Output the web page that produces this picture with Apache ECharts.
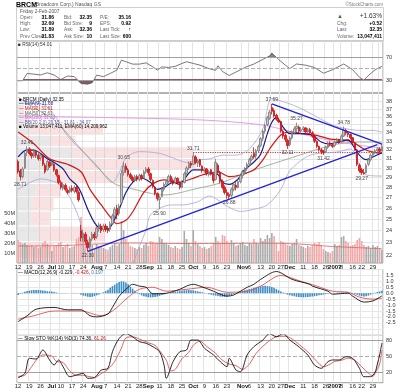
<!DOCTYPE html>
<html><head><meta charset="utf-8">
<script src="https://cdn.jsdelivr.net/npm/echarts/dist/echarts.min.js"></script>
<style>html,body{margin:0;padding:0;background:#fff}#c{width:400px;height:392px}</style>
</head><body><div id="c"></div>
<script>
// ---------- trading days ----------
const junDays = [12,13,14,15,16,19,20,21,22,23,26,27,28,29,30];
const julDays = [3,5,6,7,10,11,12,13,14,17,18,19,20,21,24,25,26,27,28,31];
const augDays = [1,2,3,4,7,8,9,10,11,14,15,16,17,18,21,22,23,24,25,28,29,30,31];
const sepDays = [1,5,6,7,8,11,12,13,14,15,18,19,20,21,22,25,26,27,28,29];
const octDays = [2,3,4,5,6,9,10,11,12,13,16,17,18,19,20,23,24,25,26,27,30,31];
const novDays = [1,2,3,6,7,8,9,10,13,14,15,16,17,20,21,22,24,27,28,29,30];
const decDays = [1,4,5,6,7,8,11,12,13,14,15,18,19,20,21,22,26,27,28,29];
const janDays = [3,4,5,8,9,10,11,12,16,17,18,19,22,23,24,25,26,29,30,31];
const febDays = [1,2];

const tickDates = ['2006-06-12','2006-06-19','2006-06-26','2006-07-03','2006-07-10','2006-07-17','2006-07-24','2006-08-01','2006-08-07','2006-08-14','2006-08-21','2006-08-28','2006-09-01','2006-09-11','2006-09-18','2006-09-25','2006-10-02','2006-10-09','2006-10-16','2006-10-23','2006-11-01','2006-11-06','2006-11-13','2006-11-20','2006-11-27','2006-12-01','2006-12-11','2006-12-18','2006-12-26','2007-01-03','2007-01-08','2007-01-16','2007-01-22','2007-01-29','2007-02-01'];
const tickLabels = ['12','19','26','Jul','10','17','24','Aug','7','14','21','28','Sep','11','18','25','Oct','9','16','23','Nov','6','13','20','27','Dec','11','18','26','2007','8','16','22','29','Feb'];
const boldLabels = ['Jul','Aug','Sep','Oct','Nov','Dec','2007','Feb'];

// ---------- daily OHLC (Jun..Feb) ----------
const open = [
 30.7,29.7,29.1,30.0,31.7,32.1,31.6,31.3,31.8,31.4,31.1,31.3,30.3,29.8,30.6,
 30.3,30.4,29.8,29.2,28.5,27.9,28.2,27.7,27.6,27.9,27.6,28.0,27.5,24.0,23.4,23.7,23.0,22.7,23.3,23.7,
 23.5,24.2,24.4,24.1,24.4,24.2,24.1,24.6,25.3,26.0,25.5,26.5,29.5,30.2,29.8,29.3,29.0,28.7,29.1,28.8,29.2,29.0,29.6,
 29.9,29.4,28.7,28.0,27.4,26.8,27.1,27.8,28.3,28.6,29.1,28.7,28.5,28.9,28.5,28.0,28.5,29.4,30.0,30.5,
 30.4,31.2,30.5,30.9,30.2,29.7,29.9,29.3,29.8,29.3,28.8,30.3,29.5,28.6,28.0,27.5,27.3,27.2,27.8,28.2,28.0,28.6,
 29.2,29.5,29.9,30.4,30.9,31.6,31.3,31.9,32.5,33.3,34.2,35.0,35.8,37.2,36.8,36.2,35.6,35.4,34.2,33.7,33.1,
 32.6,33.4,34.0,34.5,34.7,34.2,34.4,34.6,34.1,34.4,34.0,33.6,33.0,32.4,32.0,31.8,31.8,32.3,32.8,32.6,
 32.5,32.9,33.2,33.0,33.6,34.3,34.0,33.8,33.4,32.8,32.0,30.3,29.8,29.5,29.5,30.4,30.9,31.4,31.7,31.9,
 32.1,31.86];
const close = [
 29.6,29.1,29.9,31.6,32.1,31.6,31.3,31.9,31.4,31.0,31.4,30.4,29.6,30.7,30.2,
 30.6,29.8,29.3,28.5,28.0,28.3,27.8,27.5,27.9,27.7,28.0,27.6,26.8,23.4,23.8,23.1,22.6,23.3,23.7,23.4,
 24.2,24.5,24.0,24.4,24.1,24.0,24.6,25.3,25.9,25.4,26.2,29.4,30.2,29.8,29.3,29.0,28.7,29.1,28.8,29.2,28.9,29.6,29.9,
 29.5,28.8,28.1,27.4,26.9,27.0,27.8,28.3,28.6,29.1,28.7,28.4,28.9,28.5,28.0,28.5,29.4,30.0,30.5,30.3,
 31.3,30.6,30.8,30.3,29.7,29.9,29.4,29.6,29.4,28.7,30.6,29.5,28.6,28.0,27.5,27.2,27.1,27.8,28.3,28.0,28.6,29.2,
 29.6,29.9,30.4,30.9,31.3,31.2,31.9,32.4,33.3,34.2,34.9,35.9,36.6,36.7,36.1,35.7,35.4,34.2,33.6,33.2,32.5,
 33.4,34.0,34.5,34.8,34.2,34.4,34.6,34.1,34.4,34.0,33.6,33.0,32.4,32.0,31.8,31.7,32.3,32.8,32.6,32.4,
 32.9,33.2,32.9,33.6,34.3,34.0,33.8,33.4,32.9,32.1,30.4,29.7,29.5,29.4,30.3,30.9,31.4,31.7,31.9,32.1,
 31.83,32.35];
const low = [
 29.4,28.71,28.9,29.9,31.3,31.4,31.0,31.1,31.1,30.8,30.8,30.2,29.4,29.7,30.0,
 30.2,29.6,29.1,28.3,27.8,27.7,27.6,27.3,27.4,27.5,27.4,27.4,26.6,23.1,23.1,22.9,22.3,22.5,23.1,23.2,
 23.3,23.9,23.8,23.9,23.9,23.8,23.9,24.5,25.1,25.0,25.3,26.4,29.2,29.5,29.1,28.8,28.5,28.5,28.6,28.6,28.7,28.9,29.4,
 29.2,28.6,27.9,27.2,26.7,25.9,27.0,27.6,28.1,28.4,28.5,28.2,28.3,28.3,27.8,27.9,28.4,29.2,29.8,30.0,
 30.3,30.4,30.1,30.1,29.5,29.5,29.2,29.1,29.2,28.4,28.7,29.3,28.4,27.8,27.3,26.9,26.88,27.0,27.6,27.7,27.9,28.4,
 28.9,29.3,29.7,30.2,30.7,31.0,31.0,31.7,32.3,33.0,33.9,34.8,35.6,36.3,35.9,35.5,35.2,34.0,33.3,32.9,32.11,
 32.4,33.2,33.8,34.1,34.0,33.9,34.1,33.9,33.9,33.8,33.4,32.8,32.2,31.8,31.5,31.42,31.7,32.1,32.4,32.2,
 32.3,32.7,32.7,32.9,33.5,33.7,33.5,33.2,32.7,31.9,30.2,29.5,29.27,29.3,29.4,30.2,30.7,31.2,31.5,31.6,
 31.7,31.80];
const high = [
 30.9,29.9,30.1,31.8,32.41,32.3,31.8,32.1,32.0,31.6,31.6,31.4,30.5,30.9,30.8,
 30.8,30.5,29.9,29.3,28.7,28.5,28.4,27.9,28.1,28.2,28.2,28.2,27.7,24.5,24.1,23.9,23.2,23.5,23.9,23.9,
 24.4,24.7,24.6,24.6,24.6,24.4,24.8,25.5,26.1,26.3,26.4,29.8,30.65,30.5,30.0,29.5,29.2,29.3,29.3,29.4,29.4,29.8,30.1,
 30.1,29.5,28.8,28.1,27.5,27.2,28.0,28.5,28.8,29.3,29.3,28.9,29.1,29.0,28.6,28.7,29.6,30.2,30.7,30.7,
 31.71,31.4,31.0,31.0,30.3,30.1,30.0,29.8,29.9,29.4,31.0,30.5,29.7,28.8,28.2,27.8,27.5,28.0,28.5,28.5,28.8,29.4,
 29.8,30.1,30.6,31.1,31.5,32.3,32.1,32.6,33.5,34.4,35.1,36.1,36.9,37.69,37.1,36.4,35.9,35.5,34.4,33.9,33.3,
 33.6,34.3,34.8,35.27,34.9,34.7,34.8,34.7,34.6,34.6,34.2,33.8,33.1,32.5,32.2,32.0,32.5,33.0,33.0,32.8,
 33.1,33.4,33.3,33.8,34.78,34.5,34.2,33.9,33.5,32.9,32.1,30.5,30.0,29.9,30.5,31.1,31.6,31.9,32.1,32.3,
 32.3,32.69];
// volume, millions of shares
const volume = [
 23,21,19,20,18,17,18,16,17,15,16,20,22,19,17,
 12,17,18,20,21,16,17,19,15,16,17,24,26,46,28,22,24,20,18,14,
 19,17,16,15,14,13,16,18,20,17,19,42,33,24,20,17,16,15,14,16,15,18,20,
 17,22,21,19,20,26,24,20,19,18,16,15,17,15,14,16,32,24,20,17,
 33,22,19,17,15,16,14,15,17,20,26,22,20,28,27,22,20,23,20,17,18,20,
 21,18,17,20,19,24,20,19,25,22,24,28,25,30,27,20,12,22,21,19,18,
 17,19,20,24,18,17,16,15,17,16,18,20,19,21,18,14,12,11,10,12,
 19,17,18,26,27,22,20,17,18,19,23,25,22,18,16,17,15,18,16,17,
 15,13.05];
const volEma60 = [[0,17],[20,17.5],[35,19],[50,20],[70,19.5],[90,19.5],[110,19.8],[125,19],[140,16.5],[150,15.5],[162,14.2]];

// ---------- overlays: [day index, value] ----------
const ema9 = [[0,31.2],[4,32.0],[8,31.9],[13,31.0],[16,30.6],[20,29.9],[23,28.85],[26,28.24],[28,27.5],[31,25.9],[34,24.7],[37,24.15],[40,24.15],[42,24.6],[45,25.9],[48,27.5],[51,28.5],[54,29.0],[59,28.5],[62,27.8],[65,28.0],[69,28.5],[72,28.3],[74,28.85],[78,29.8],[82,29.8],[86,29.4],[89,29.3],[91,28.5],[94,28.3],[98,28.85],[100,29.6],[105,30.65],[108,31.5],[111,33.9],[113,35.3],[115,35.9],[118,34.7],[121,33.9],[127,33.9],[131,33.7],[135,32.9],[138,32.7],[143,32.9],[147,33.15],[149,32.56],[152,31.4],[155,30.9],[158,31.2],[162,31.68]];
const ma20 = [[0,34.1],[7,32.7],[14,31.0],[22,30.4],[28,29.6],[32,27.8],[37,26.3],[41,25.2],[44,24.6],[48,24.9],[51,25.65],[56,27.5],[60,28.35],[65,28.75],[71,28.5],[77,28.85],[82,29.26],[89,29.6],[94,29.1],[99,29.26],[105,29.8],[109,30.87],[112,32.1],[117,33.74],[121,34.1],[127,33.9],[133,33.7],[139,33.25],[145,33.15],[149,32.9],[154,32.1],[158,31.75],[162,31.61]];
const ma50 = [[0,38.6],[8,37.0],[16,35.6],[42,28.5],[50,27.9],[65,27.25],[80,27.9],[91,28.5],[99,29.26],[109,30.1],[120,30.97],[129,31.7],[140,32.56],[152,32.9],[162,32.9]];
const ma200 = [[0,36.1],[40,35.9],[81,35.6],[108,35.0],[121,34.2],[137,33.2],[150,32.6],[162,32.2]];
const bbUpper = [[0,37.8],[8,37.8],[13,37.3],[19,35.0],[22,33.6],[35,30.3],[42,28.5],[45,29.5],[48,31.1],[54,31.8],[63,31.6],[71,30.9],[75,30.6],[81,30.9],[85,30.97],[91,31.4],[97,31.4],[103,32.1],[109,34.5],[113,38.4],[120,37.8],[125,37.2],[133,36.0],[140,34.96],[146,34.5],[152,34.3],[158,34.3],[162,34.07]];
const bbLower = [[0,27.8],[10,28.85],[19,28.24],[24,26.6],[28,24.5],[30,21.8],[34,20.0],[40,19.5],[46,20.3],[51,21.4],[54,22.7],[57,24.06],[59,25.4],[68,26.3],[73,26.3],[80,26.6],[85,27.15],[93,26.2],[99,25.7],[105,25.9],[111,26.3],[117,27.8],[121,29.7],[130,31.4],[142,31.75],[148,32.1],[152,30.3],[155,29.26],[162,29.15]];
const upTrend = [[31,22.3],[160,32.6]];
const downTrend = [[113,37.69],[162,32.67]];
const resistance = [[78,31.71],[162,31.71]];
const highNotes = [[4,32.41],[47,30.65],[78,31.71],[113,37.69],[124,35.27],[145,34.78]];
const lowNotes = [[1,28.71],[31,22.3],[63,25.9],[94,26.88],[120,32.11],[136,31.42],[153,29.27]];
const priceTicks = [22,23,24,25,26,27,28,29,30,31,32,33,34,35,36,37,38];

// volume by price bands
const vbpLow  = [21.75,23.08,24.41,25.73,27.06,28.39,29.72,31.04,32.37,33.70,35.03,36.36];
const vbpHigh = [23.08,24.41,25.73,27.06,28.39,29.72,31.04,32.37,33.70,35.03,36.36,37.69];
const vbpUp   = [30,60,40,40,50,110,170,150,90,35,15,10];
const vbpDown = [70,180,50,60,70,200,320,330,70,200,15,10];

// RSI(14)
const rsi = [[0,28.8],[2,29],[4,41.6],[7,40.4],[10,39],[13,42.7],[16,39],[19,31],[22,37],[25,36.2],[28,24],[31,23],[33,25.5],[35,38.7],[38,36],[41,41.6],[44,47.4],[46,64.8],[48,62],[51,57.8],[54,57.8],[57,60],[60,53],[62,47.4],[64,53],[67,52],[70,54],[73,59],[75,62],[78,59],[81,56],[85,50],[88,47],[89,55],[91,45],[94,38],[97,44],[101,52],[105,58],[109,66],[112,72],[113,77],[116,66],[119,56],[121,50],[124,58],[128,56],[132,52],[136,42],[140,48],[145,58],[149,48],[152,35],[154,30],[156,38],[159,48],[162,54.01]];

// MACD(12,26,9)
const macdLine = [[0,-2.4],[4,-1.9],[8,-1.35],[16,-1.2],[22,-1.4],[28,-1.4],[32,-1.9],[35,-2.0],[40,-1.75],[42,-1.2],[45,-0.25],[49,0.5],[51,0.75],[54,0.6],[57,0.5],[60,-0.05],[66,0.0],[72,0.33],[75,0.6],[78,0.75],[81,0.6],[87,0.17],[93,-0.25],[96,-0.15],[102,0.5],[105,0.75],[108,1.17],[115,1.83],[122,1.17],[130,0.75],[131,0.6],[138,0.17],[140,-0.08],[147,0.0],[149,-0.25],[154,-0.75],[158,-0.65],[162,-0.229]];
const macdSignal = [[0,-2.2],[7,-1.9],[16,-1.5],[28,-1.5],[37,-1.9],[42,-1.5],[49,-0.35],[54,0.33],[60,0.5],[66,0.17],[75,0.33],[84,0.5],[93,0.08],[102,0.17],[108,0.6],[117,1.5],[126,1.0],[133,0.6],[140,0.17],[147,0.08],[152,-0.33],[158,-0.5],[162,-0.426]];
const macdHist = [
 -0.15,-0.05,0.05,0.12,0.18,0.22,0.25,0.27,0.28,0.27,0.25,0.22,0.2,0.17,0.15,
 0.14,0.1,0.06,0.02,-0.02,-0.03,-0.02,-0.01,0.0,0.02,0.03,0.02,-0.02,-0.12,-0.2,-0.25,
 -0.3,-0.32,-0.3,-0.25,-0.18,-0.1,-0.02,0.08,0.18,0.3,
 0.45,0.6,0.72,0.85,0.95,1.0,0.98,0.9,0.75,0.55,0.38,
 0.2,0.05,-0.08,-0.18,-0.25,-0.3,-0.34,-0.36,-0.35,-0.32,-0.28,-0.22,-0.16,-0.1,-0.05,0.0,0.05,0.1,0.12,0.15,
 0.18,0.2,0.24,0.26,0.27,0.26,0.24,0.2,0.16,0.12,0.08,0.03,-0.02,-0.08,
 -0.13,-0.18,-0.2,-0.24,-0.28,-0.3,-0.3,-0.27,-0.22,-0.15,-0.08,
 0.0,0.08,0.15,0.2,0.25,0.3,0.35,0.4,0.45,0.5,0.55,0.58,0.6,0.62,0.6,0.58,0.52,0.45,0.35,0.25,0.15,0.05,
 -0.05,-0.12,-0.18,-0.22,-0.26,-0.3,-0.32,-0.34,-0.35,-0.34,-0.32,-0.3,-0.28,-0.25,-0.22,-0.18,-0.15,-0.12,-0.08,-0.05,-0.02,0.0,
 0.02,0.04,0.05,0.06,0.07,0.06,0.04,0.01,
 -0.04,-0.08,-0.14,-0.2,-0.25,-0.27,-0.25,-0.2,-0.12,-0.04,
 0.04,0.1,0.15,0.197];

// Slow stochastic
const stoK = [[0,9.4],[3,17.6],[5,45.7],[8,44.4],[11,61.3],[14,42.6],[16,33.2],[18,42.6],[20,30],[23,11.3],[26,14.4],[29,17.6],[31,8.2],[34,9.4],[37,23.8],[40,27],[42,58],[45,83],[48,92],[51,86],[54,77],[57,74],[60,67.5],[63,58],[65,33],[66,8.2],[69,39.4],[72,58],[75,61.3],[77,80],[80,80],[83,64.5],[87,52],[90,39.4],[93,30],[94,45.7],[97,23.8],[99,20.6],[102,52],[105,67.5],[109,80],[112,92],[115,86],[118,92],[121,80],[124,70.7],[129,52],[132,33],[135,27],[138,39.4],[140,42.6],[143,42.6],[146,48.8],[149,45.7],[152,27],[154,11.3],[157,11.3],[159,20],[160,35],[161,52],[162,74.36]];
const stoD = [[0,12],[3,14],[6,30],[8,42],[11,52],[15,50],[17,40],[20,38],[23,22],[26,14],[29,14],[31,12],[34,10],[37,17],[40,25],[43,40],[46,65],[48,84],[51,86],[55,80],[58,75],[61,70],[63,60],[66,42],[68,22],[70,25],[73,45],[76,57],[78,70],[81,78],[84,68],[88,55],[91,42],[94,35],[97,32],[100,25],[103,35],[106,55],[110,72],[113,82],[116,87],[119,87],[122,82],[125,72],[129,58],[133,40],[136,30],[139,35],[141,40],[144,42],[147,46],[150,42],[153,30],[156,18],[158,12],[159,18],[161,35],[162,61.26]];

// ---------- build ----------
const months = [['2006-06',junDays],['2006-07',julDays],['2006-08',augDays],['2006-09',sepDays],['2006-10',octDays],['2006-11',novDays],['2006-12',decDays],['2007-01',janDays],['2007-02',febDays]];
const dates = [];
months.forEach(([m, ds]) => ds.forEach(d => dates.push(m + '-' + (d < 10 ? '0' + d : d))));
const tickMap = {};
tickDates.forEach((d, i) => { tickMap[d] = tickLabels[i]; });
const isTick = (i, v) => tickMap[v] !== undefined;
const pts = arr => arr.map(([i, v]) => [dates[i], v]);

const FONT = 'Liberation Sans, Arial, sans-serif';
const NARROW = '"Liberation Sans Narrow", "Liberation Sans", Arial, sans-serif';
const L = 17, W = 366;
function xCat(grid, labels) {
  return {
    type: 'category', gridIndex: grid, data: dates, boundaryGap: true,
    axisLine: {show: false}, axisTick: {show: false},
    axisLabel: {
      show: labels, interval: isTick, margin: 1, fontSize: 6, color: '#222', fontFamily: FONT,
      formatter: v => { const t = tickMap[v] || ''; return boldLabels.indexOf(t) >= 0 ? '{b|' + t + '}' : t; },
      rich: {b: {fontWeight: 'bold', fontSize: 6, color: '#111', fontFamily: FONT}}
    },
    splitLine: {show: true, interval: isTick, lineStyle: {color: '#e4e4e4', width: 1}}
  };
}
const hiddenCat = g => ({type: 'category', gridIndex: g, data: dates, boundaryGap: true, show: false});

const candleData = dates.map((d, i) => [open[i], close[i], low[i], high[i]]);
const volData = volume.map((v, i) => ({
  value: v,
  itemStyle: {color: close[i] >= (i ? close[i - 1] : open[i]) ? '#ababab' : '#f2a6a6'}
}));

const T = (x, y, text, o) => ({type: 'text', x: x, y: y, silent: true, z: 100,
  style: Object.assign({text: text, fill: '#000', font: '5px ' + FONT, textVerticalAlign: 'middle'}, o || {})});

const graphics = [
  T(16, 5, 'BRCM', {font: 'bold 7px ' + FONT}),
  T(34, 5, '(Broadcom Corp.) Nasdaq GS', {fill: '#555', font: '5px ' + FONT}),
  T(383, 4.5, '\u00a9StockCharts.com', {fill: '#777', font: '4.5px ' + FONT, textAlign: 'right'}),
  {type: 'rect', silent: true, shape: {x: 16.5, y: 7.5, width: 367, height: 34}, style: {fill: 'none', stroke: '#cfcfcf', lineWidth: 1}},
  T(20, 11.5, 'Friday 2-Feb-2007', {fill: '#555', font: '4.8px ' + NARROW})
];
const infoRows = [
  ['Open:', '31.86', 'Bid:', '32.35', 'P/E:', '35.16'],
  ['High:', '32.69', 'Bid Size:', '9', 'EPS:', '0.92'],
  ['Low:', '31.89', 'Ask:', '32.36', 'Last Tick:', '\u2191'],
  ['Prev Close:', '31.83', 'Ask Size:', '10', 'Last Size:', '600']
];
const rowY = [17.5, 23.8, 30, 36.2];
const lab = {fill: '#666', font: '4.8px ' + NARROW};
const val = {font: 'bold 5px ' + FONT, textAlign: 'right'};
infoRows.forEach((r, k) => {
  graphics.push(T(20, rowY[k], r[0], lab));
  graphics.push(T(54, rowY[k], r[1], val));
  graphics.push(T(64, rowY[k], r[2], lab));
  graphics.push(T(92, rowY[k], r[3], val));
  graphics.push(T(100, rowY[k], r[4], lab));
  graphics.push(T(131, rowY[k], r[5], val));
});
graphics.push(T(337, 16.5, '\u25b2', {fill: '#2a7a2a', font: '6px ' + FONT}));
graphics.push(T(382, 16.5, '+1.63%', {fill: '#333', font: '6.5px ' + FONT, textAlign: 'right'}));
[['Chg:', '+0.52', 23.8], ['Last:', '32.35', 30], ['Volume:', '13,047,411', 36.2]].forEach(r => {
  graphics.push(T(337, r[2], r[0], lab));
  graphics.push(T(382, r[2], r[1], val));
});
graphics.push(T(18, 44.5, '\u25a0 RSI(14) 54.01', {fill: '#333', font: '4.8px ' + FONT}));
const legend = [
  ['\u25a0 BRCM (Daily) 32.35', '#000'],
  ['\u2014 EMA(9) 31.68', '#1a1a8c'],
  ['\u2014 MA(20) 31.61', '#d01010'],
  ['\u2014 MA(50) 32.61', '#3e5e3e'],
  ['\u2014 MA(200) 31.33', '#d060d0'],
  ['\u2014 BB(20,2.0) 29.15 - 31.61 - 34.07', '#5a5aa0'],
  ['\u25a0 Volume 13,047,411, EMA(60) 14,209,962', '#000']
];
legend.forEach((l, k) => graphics.push(T(19, 99.5 + k * 4.6, l[0], {fill: l[1], font: '4.6px ' + FONT})));
graphics.push({type: 'text', x: 18, y: 272.5, silent: true, z: 100, style: {
  text: '{a|\u2014 MACD(12,26,9) -0.229,} {r|-0.426}{a|,} {c|0.197}', textVerticalAlign: 'middle', font: '4.8px ' + FONT,
  rich: {a: {fill: '#000', font: '4.8px ' + FONT}, r: {fill: '#d01010', font: '4.8px ' + FONT}, c: {fill: '#2a7ab8', font: '4.8px ' + FONT}}}});
graphics.push({type: 'text', x: 18, y: 338.5, silent: true, z: 100, style: {
  text: '{a|\u2014 Slow STO %K(14) %D(3) 74.36,} {r|61.26}', textVerticalAlign: 'middle', font: '4.8px ' + FONT,
  rich: {a: {fill: '#000', font: '4.8px ' + FONT}, r: {fill: '#d01010', font: '4.8px ' + FONT}}}});

const lineS = (data, color, width, extra) => Object.assign({
  type: 'line', xAxisIndex: 3, yAxisIndex: 3, data: pts(data), showSymbol: false, symbol: 'none',
  smooth: 0.3, silent: true, z: 3, lineStyle: {color: color, width: width}
}, extra || {});

const option = {
  animation: false,
  backgroundColor: '#fff',
  textStyle: {fontFamily: FONT},
  graphic: graphics,
  grid: [
    {left: L, width: W, top: 41, height: 52, show: true, borderColor: '#9a9a9a', borderWidth: 1},
    {left: L, width: W, top: 41, height: 16.1},
    {left: L, width: W, top: 80.1, height: 12.9},
    {left: L, width: W, top: 93, height: 170, show: true, borderColor: '#9a9a9a', borderWidth: 1},
    {left: L, width: W, top: 269.5, height: 65.2, show: true, borderColor: '#9a9a9a', borderWidth: 1},
    {left: L, width: W, top: 334.7, height: 48, show: true, borderColor: '#9a9a9a', borderWidth: 1}
  ],
  xAxis: [
    xCat(0, false), hiddenCat(1), hiddenCat(2), xCat(3, true),
    {type: 'value', gridIndex: 3, min: 0, max: 1000, show: false},
    xCat(4, false), xCat(5, true)
  ],
  yAxis: [
    {type: 'value', gridIndex: 0, min: 7.6, max: 98, show: false},
    {type: 'value', gridIndex: 1, min: 70, max: 98, show: false},
    {type: 'value', gridIndex: 2, min: 7.6, max: 30, show: false},
    {type: 'log', gridIndex: 3, logBase: 10, min: 21.39, max: 39.18, position: 'right',
      axisLine: {show: false}, axisTick: {show: false}, axisLabel: {show: false}, splitLine: {show: false}},
    {type: 'value', gridIndex: 3, min: 0, max: 170, interval: 10, position: 'left',
      axisLine: {show: false}, axisTick: {show: false}, splitLine: {show: false},
      axisLabel: {fontSize: 5.5, color: '#333', margin: 2, formatter: v => (v >= 10 && v <= 50) ? v + 'M' : ''}},
    {type: 'value', gridIndex: 4, min: -3.5, max: 2, interval: 0.5, position: 'right',
      axisLine: {show: false}, axisTick: {show: false},
      splitLine: {show: true, lineStyle: {color: '#e8e8e8'}},
      axisLabel: {fontSize: 5.5, color: '#333', margin: 3, formatter: v => (v <= 1.5 && v >= -2.5) ? v.toFixed(1) : ''}},
    {type: 'value', gridIndex: 5, min: 0, max: 90, interval: 10, position: 'right',
      axisLine: {show: false}, axisTick: {show: false}, splitLine: {show: false},
      axisLabel: {fontSize: 5.5, color: '#333', margin: 3, formatter: v => (v === 20 || v === 50 || v === 80) ? String(v) : ''}}
  ],
  series: [
    // RSI
    {type: 'line', xAxisIndex: 0, yAxisIndex: 0, data: pts(rsi), symbol: 'none', silent: true, z: 3,
      lineStyle: {color: '#555', width: 0.8},
      markLine: {silent: true, symbol: ['none', 'none'], animation: false,
        label: {show: true, position: 'end', distance: 3, fontSize: 5.5, color: '#333', formatter: p => p.value},
        lineStyle: {color: '#a0a0a0', type: 'solid', width: 1},
        data: [{yAxis: 70}, {yAxis: 50, lineStyle: {type: 'dashed', color: '#b0b0b0'}, label: {show: false}}, {yAxis: 30}]}},
    {type: 'line', xAxisIndex: 1, yAxisIndex: 1, data: pts(rsi), symbol: 'none', silent: true, z: 2,
      lineStyle: {opacity: 0}, areaStyle: {origin: 'start', color: '#6f8f6f', opacity: 1}},
    {type: 'line', xAxisIndex: 2, yAxisIndex: 2, data: pts(rsi), symbol: 'none', silent: true, z: 2,
      lineStyle: {opacity: 0}, areaStyle: {origin: 'end', color: '#855a62', opacity: 1}},
    // volume by price
    {type: 'custom', xAxisIndex: 4, yAxisIndex: 3, silent: true, z: 0, clip: true,
      data: vbpLow.map((lo, i) => [lo, vbpHigh[i], vbpUp[i], vbpDown[i]]),
      encode: {x: [2, 3], y: [0, 1]},
      renderItem: (params, api) => {
        const lo = api.value(0), hi = api.value(1), up = api.value(2), dn = api.value(3);
        const a = api.coord([0, hi]), b = api.coord([up, lo]), c = api.coord([up + dn, lo]);
        return {type: 'group', children: [
          {type: 'rect', shape: {x: a[0], y: a[1] + 0.5, width: b[0] - a[0], height: b[1] - a[1] - 1}, style: {fill: 'rgba(185,185,185,0.32)'}},
          {type: 'rect', shape: {x: b[0], y: a[1] + 0.5, width: c[0] - b[0], height: b[1] - a[1] - 1}, style: {fill: 'rgba(240,150,150,0.28)'}}
        ]};
      }},
    // volume
    {type: 'bar', xAxisIndex: 3, yAxisIndex: 4, data: volData, barWidth: 1.6, silent: true, z: 1},
    {type: 'line', xAxisIndex: 3, yAxisIndex: 4, data: pts(volEma60), symbol: 'none', smooth: 0.3, silent: true, z: 2,
      lineStyle: {color: '#e06060', width: 0.8}},
    // overlays
    lineS(bbUpper, '#a6a6d6', 0.8),
    lineS(bbLower, '#a6a6d6', 0.8),
    lineS(ma200, '#e59ce9', 1),
    lineS(ma50, '#86a286', 0.8),
    lineS(ma20, '#d41515', 1.2),
    lineS(ema9, '#1a1a8c', 1.2),
    // candles
    {type: 'candlestick', xAxisIndex: 3, yAxisIndex: 3, data: candleData, barWidth: 2, silent: true, z: 4,
      itemStyle: {color: '#c4c4c4', color0: '#e8262b', borderColor: '#7a7a7a', borderColor0: '#c81010', borderWidth: 0.8},
      markLine: {silent: true, symbol: ['none', 'none'], z: 1, animation: false,
        label: {show: true, position: 'end', distance: 3, fontSize: 5.5, color: '#333', formatter: p => p.value},
        lineStyle: {color: '#e4e4e4', type: 'solid', width: 1},
        data: priceTicks.map(v => ({yAxis: v})).concat([[
          {coord: [dates[resistance[0][0]], resistance[0][1]], lineStyle: {color: '#e03030', type: 'dotted', width: 1.2}, label: {show: false}},
          {coord: [dates[resistance[1][0]], resistance[1][1]]}
        ]])},
      markPoint: {silent: true, symbol: 'circle', symbolSize: 1, itemStyle: {color: 'rgba(0,0,0,0)'}, animation: false,
        label: {show: true, fontSize: 5, color: '#444', fontFamily: FONT},
        data: highNotes.map(([i, v]) => ({coord: [dates[i], v], value: v.toFixed(2), label: {position: 'top', distance: 1}}))
          .concat(lowNotes.map(([i, v]) => ({coord: [dates[i], v], value: v.toFixed(2), label: {position: 'bottom', distance: 1}})))}},
    // trendlines
    lineS(upTrend, '#2323d8', 1.4, {smooth: false, z: 5}),
    lineS(downTrend, '#2323d8', 1.4, {smooth: false, z: 5}),
    // MACD
    {type: 'bar', xAxisIndex: 5, yAxisIndex: 5, data: macdHist, barWidth: 1.6, silent: true, z: 2,
      itemStyle: {color: '#3d8ec6'}},
    {type: 'line', xAxisIndex: 5, yAxisIndex: 5, data: pts(macdSignal), symbol: 'none', smooth: 0.3, silent: true, z: 3,
      lineStyle: {color: '#e05050', width: 0.9}},
    {type: 'line', xAxisIndex: 5, yAxisIndex: 5, data: pts(macdLine), symbol: 'none', smooth: 0.3, silent: true, z: 4,
      lineStyle: {color: '#111', width: 0.9}},
    // Stochastic
    {type: 'line', xAxisIndex: 6, yAxisIndex: 6, data: pts(stoD), symbol: 'none', smooth: 0.3, silent: true, z: 3,
      lineStyle: {color: '#e05050', width: 0.9},
      markLine: {silent: true, symbol: ['none', 'none'], z: 1, animation: false, label: {show: false},
        lineStyle: {color: '#a0a0a0', type: 'solid', width: 1},
        data: [{yAxis: 80}, {yAxis: 50, lineStyle: {type: 'dashed', color: '#b0b0b0'}}, {yAxis: 20}]}},
    {type: 'line', xAxisIndex: 6, yAxisIndex: 6, data: pts(stoK), symbol: 'none', smooth: 0.3, silent: true, z: 4,
      lineStyle: {color: '#111', width: 0.9}}
  ]
};
const chart = echarts.init(document.getElementById('c'), null, {renderer: 'canvas'});
chart.setOption(option);
</script></body></html>
